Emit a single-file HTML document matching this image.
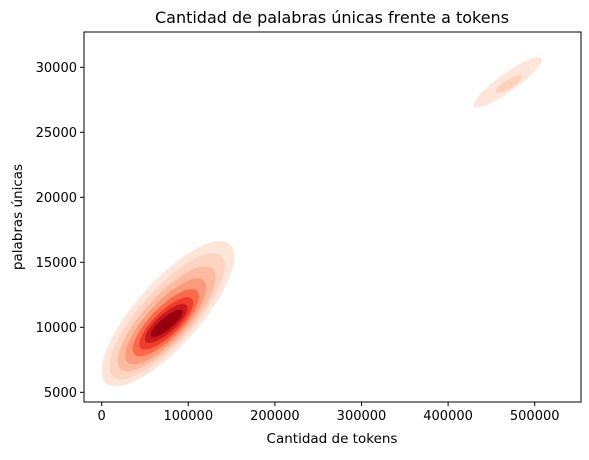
<!DOCTYPE html>
<html><head><meta charset="utf-8"><style>
body{margin:0;background:#fff}
svg text{font-family:"DejaVu Sans","Liberation Sans",sans-serif;fill:#000}
</style></head><body>
<svg id="chart" width="589" height="455">
<text x="332" y="23" font-size="16" text-anchor="middle">Cantidad de palabras únicas frente a tokens</text>
<g id="plot"></g>
<rect x="84" y="32" width="497" height="370" fill="none" stroke="#000" stroke-width="1"/>
<g id="xt"></g><g id="yt"></g>
<text x="332" y="443" font-size="13.5" text-anchor="middle">Cantidad de tokens</text>
<text transform="translate(22,217) rotate(-90)" font-size="13.5" text-anchor="middle">palabras únicas</text>
</svg>
<script>
const xTicks=[0,100000,200000,300000,400000,500000];
const yTicks=[5000,10000,15000,20000,25000,30000];
// contour levels: [x1,y1,x2,y2,halfWidth(y units)]
const mainLevels=[[5000,5700,148000,16400,3700],[13000,6200,138000,15500,3100],[22000,6800,128000,14500,2600],[30000,7300,118000,13600,2150],[38000,7900,110000,12800,1700],[45000,8400,104000,12200,1300],[51000,8900,98000,11700,950],[57000,9300,93000,11300,600]];
const mainColors=["#fee5d9","#fdd3c1","#fcbba1","#fc9a7c","#fb6a4a","#ef3b2c","#cb181d","#99000d"];
const upperLevels=[[430000,27000,508000,30700,850],[455000,28100,485000,29300,380]];
const upperColors=["#fee5d9","#fdd0bc"];
const sx=v=>101.7+v*86.6/100000;
const sy=v=>392.3-(v-5000)*65/5000;
const NS="http://www.w3.org/2000/svg";
const plot=document.getElementById('plot');
function draw(levels,colors,name){
 levels.forEach((l,i)=>{
  const x1=sx(l[0]),y1=sy(l[1]),x2=sx(l[2]),y2=sy(l[3]);
  const cx=(x1+x2)/2,cy=(y1+y2)/2,dx=x2-x1,dy=y2-y1;
  const len=Math.hypot(dx,dy),ang=Math.atan2(dy,dx);
  const hw=l[4]*65/5000*Math.abs(Math.cos(ang));
  const e=document.createElementNS(NS,'ellipse');
  e.setAttribute('cx',cx);e.setAttribute('cy',cy);
  e.setAttribute('rx',len/2);e.setAttribute('ry',hw);
  e.setAttribute('transform',`rotate(${ang*180/Math.PI} ${cx} ${cy})`);
  e.setAttribute('fill',colors[i]);
  
  
  plot.appendChild(e);
 });
}
draw(mainLevels,mainColors,'main-cluster');
draw(upperLevels,upperColors,'upper-cluster');
const xt=document.getElementById('xt'),yt=document.getElementById('yt');
xTicks.forEach(v=>{
 const x=sx(v);
 const l=document.createElementNS(NS,'line');
 l.setAttribute('x1',x);l.setAttribute('x2',x);l.setAttribute('y1',402);l.setAttribute('y2',406);l.setAttribute('stroke','#000');
 
 
 xt.appendChild(l);
 const t=document.createElementNS(NS,'text');
 t.setAttribute('x',x);t.setAttribute('y',420);t.setAttribute('font-size','13');t.setAttribute('text-anchor','middle');
 t.textContent=v;
 
 
 xt.appendChild(t);
});
yTicks.forEach(v=>{
 const y=sy(v);
 const l=document.createElementNS(NS,'line');
 l.setAttribute('x1',80);l.setAttribute('x2',84);l.setAttribute('y1',y);l.setAttribute('y2',y);l.setAttribute('stroke','#000');
 
 
 yt.appendChild(l);
 const t=document.createElementNS(NS,'text');
 t.setAttribute('x',77);t.setAttribute('y',y+4.5);t.setAttribute('font-size','13');t.setAttribute('text-anchor','end');
 t.textContent=v;
 
 
 yt.appendChild(t);
});
</script>
</body></html>
